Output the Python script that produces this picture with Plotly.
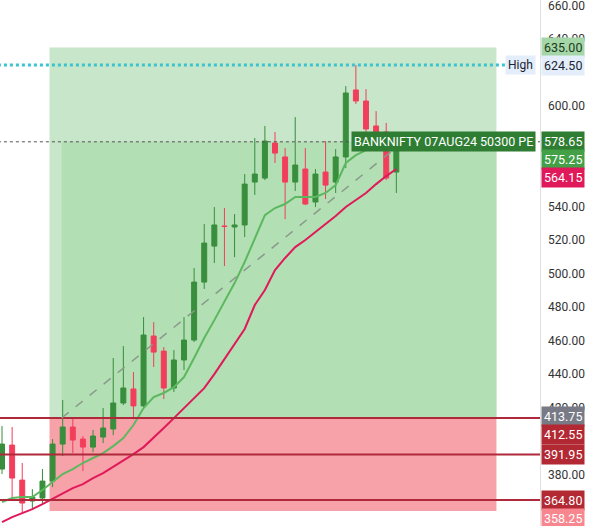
import plotly.graph_objects as go

idx = list(range(40))
opens = [383.3,397.6,376.7,364.2,366.0,376.1,398.2,408.4,401.2,396.4,402.4,407.2,422.7,431.1,421.0,462.7,453.7,431.7,448.4,460.3,
         494.9,516.4,528.4,527.8,529.0,554.6,557.0,577.9,569.6,554.6,562.4,542.7,560.6,554.6,569.6,609.6,603.0,588.1,584.5,560.6]
highs = [409.0,408.4,386.9,371.3,383.3,401.2,424.5,413.7,403.0,406.6,419.7,449.6,456.7,441.2,474.0,471.0,456.1,454.3,474.0,503.3,
         529.6,539.7,539.1,535.5,559.4,580.9,588.1,584.5,574.9,593.4,574.9,562.4,579.1,574.3,611.9,624.5,610.1,597.0,589.9,577.5]
lows = [380.3,366.6,357.0,358.8,361.8,372.5,391.1,392.8,382.1,393.4,398.8,403.6,421.5,413.1,419.7,444.2,425.1,429.3,442.4,459.1,
        490.8,506.3,504.5,509.8,521.8,546.9,555.8,566.0,532.5,549.3,540.9,539.7,544.5,548.1,563.0,601.2,580.9,581.5,555.8,548.1]
closes = [398.2,377.9,363.0,366.6,376.1,398.2,408.4,400.6,396.4,403.0,407.8,422.7,431.7,421.0,463.3,453.1,431.7,448.4,460.3,494.9,
          518.2,529.0,528.1,529.0,553.4,559.4,579.1,571.9,554.6,564.8,541.5,559.4,552.8,569.6,607.8,603.0,586.3,584.5,557.0,575.25]
ma_fast = [363.6,366.0,366.6,366.6,370.8,375.5,380.3,383.3,386.9,389.9,392.8,397.0,401.8,409.6,419.7,426.3,428.7,432.2,438.2,449.6,
           461.5,472.2,483.0,494.3,506.9,521.2,534.9,539.1,541.5,545.7,545.7,545.7,548.1,552.8,566.0,570.7,573.7,575.5,577.3,578.5]
ma_slow = [351.6,354.6,357.0,359.4,362.4,365.4,368.4,371.9,374.3,377.9,380.9,384.5,388.1,392.2,396.4,401.8,407.8,413.7,419.7,425.7,
           431.6,440.0,449.0,457.9,466.9,481.2,490.2,502.1,509.3,515.8,520.0,524.8,529.6,534.3,539.7,543.9,548.1,553.4,558.2,562.4]

target_top = 635.00
high_level = 624.50
entry_mark = 578.65
last_price = 575.25
slow_last = 564.15
entry = 413.75
stop_mark = 412.55
level_mid = 391.95
level_low = 364.80
stop = 358.25
y_ticks = [660, 640, 600, 540, 520, 500, 480, 460, 440, 420, 380]

GREEN = "#388e3c"
RED = "#f23e5c"
fig = go.Figure()

box_x0, box_dark_x0, box_x1 = 4.7, 5.9, 48.9
shapes = [
    dict(type="rect", x0=box_x0, x1=box_x1, y0=entry, y1=target_top, fillcolor="#c8e6c9", line_width=0, layer="below"),
    dict(type="rect", x0=box_dark_x0, x1=box_x1, y0=entry, y1=entry_mark, fillcolor="#b2dfb3", line_width=0, layer="below"),
    dict(type="rect", x0=box_x0, x1=box_x1, y0=stop, y1=entry, fillcolor="#f7a1a8", line_width=0, layer="below"),
]
for lv in [entry, level_mid, level_low]:
    shapes.append(dict(type="line", xref="x", x0=-1, x1=60, y0=lv, y1=lv, line=dict(color="#b0293a", width=2)))
shapes.append(dict(type="line", x0=-1, x1=60, y0=entry_mark, y1=entry_mark, line=dict(color="#555", width=1, dash="dot")))
shapes.append(dict(type="line", x0=-1, x1=49.8, y0=high_level, y1=high_level, line=dict(color="#3bc4d0", width=3, dash="dot")))
shapes.append(dict(type="line", x0=box_dark_x0, x1=idx[-1], y0=entry, y1=last_price, line=dict(color="#8a9a8a", width=1.5, dash="dash")))

fig.add_trace(go.Scatter(x=idx, y=ma_slow, mode="lines", line=dict(color="#e0195a", width=2), hoverinfo="skip"))
fig.add_trace(go.Scatter(x=idx, y=ma_fast, mode="lines", line=dict(color="#5cb85f", width=2), hoverinfo="skip"))
fig.add_trace(go.Candlestick(x=idx, open=opens, high=highs, low=lows, close=closes, whiskerwidth=0,
    increasing=dict(line=dict(color=GREEN, width=1), fillcolor=GREEN),
    decreasing=dict(line=dict(color=RED, width=1), fillcolor=RED)))

ann = []
def badge(y, text, bg, fg="white", shift=0):
    ann.append(dict(xref="paper", yref="y", x=0.914, y=y, xanchor="left", yanchor="middle", text=text, yshift=shift,
                    showarrow=False, bgcolor=bg, font=dict(color=fg, size=12.5, family="Roboto"), borderpad=2))
for t in y_ticks:
    ann.append(dict(xref="paper", yref="y", x=0.922, y=t, xanchor="left", yanchor="middle", text=f"{t:.2f}",
                    showarrow=False, font=dict(color="#333", size=12, family="Roboto")))
badge(target_top, f"{target_top:.2f}", "#a5d6a7", "#1b3a1b")
badge(high_level, f"{high_level:.2f}", "#e3eefa", "#1b2430")
badge(entry_mark, f"{entry_mark:.2f}", "#2e7d32")
badge(last_price, f"{last_price:.2f}", "#43a047", shift=-12)
badge(slow_last, f"{slow_last:.2f}", "#e0195a", shift=-11)
badge(entry, f"{entry:.2f}", "#787b86", shift=2)
badge(stop_mark, f"{stop_mark:.2f}", "#b22833", shift=-14)
badge(level_mid, f"{level_mid:.2f}", "#b22833")
badge(level_low, f"{level_low:.2f}", "#b22833")
badge(stop, f"{stop:.2f}", "#f7868f", shift=-7)
ann.append(dict(xref="paper", yref="y", x=0.905, y=high_level, xanchor="right", yanchor="middle", text="High",
                showarrow=False, bgcolor="#e3eefa", font=dict(color="#1b2430", size=12, family="Roboto"), borderpad=2))
ann.append(dict(xref="paper", yref="y", x=0.905, y=entry_mark, xanchor="right", yanchor="middle",
                text="BANKNIFTY 07AUG24 50300 PE", showarrow=False, bgcolor="#2e7d32",
                font=dict(color="white", size=12.5, family="Roboto"), borderpad=2))

fig.update_layout(
    width=592, height=526, margin=dict(l=0, r=0, t=0, b=0), showlegend=False,
    plot_bgcolor="white", paper_bgcolor="white", shapes=shapes, annotations=ann,
    xaxis=dict(domain=[0, 0.912], range=[-0.2, 53.2], showgrid=False, zeroline=False, showticklabels=False,
               rangeslider=dict(visible=False)),
    yaxis=dict(range=[349.3, 663.3], showgrid=False, zeroline=False, showticklabels=False, side="right",
               showline=True, linecolor="#e0e0e0", mirror=False),
)
fig.write_html("out.html", config={"displayModeBar": False},
               post_script="document.body.style.margin='0';document.body.style.overflow='hidden';")
